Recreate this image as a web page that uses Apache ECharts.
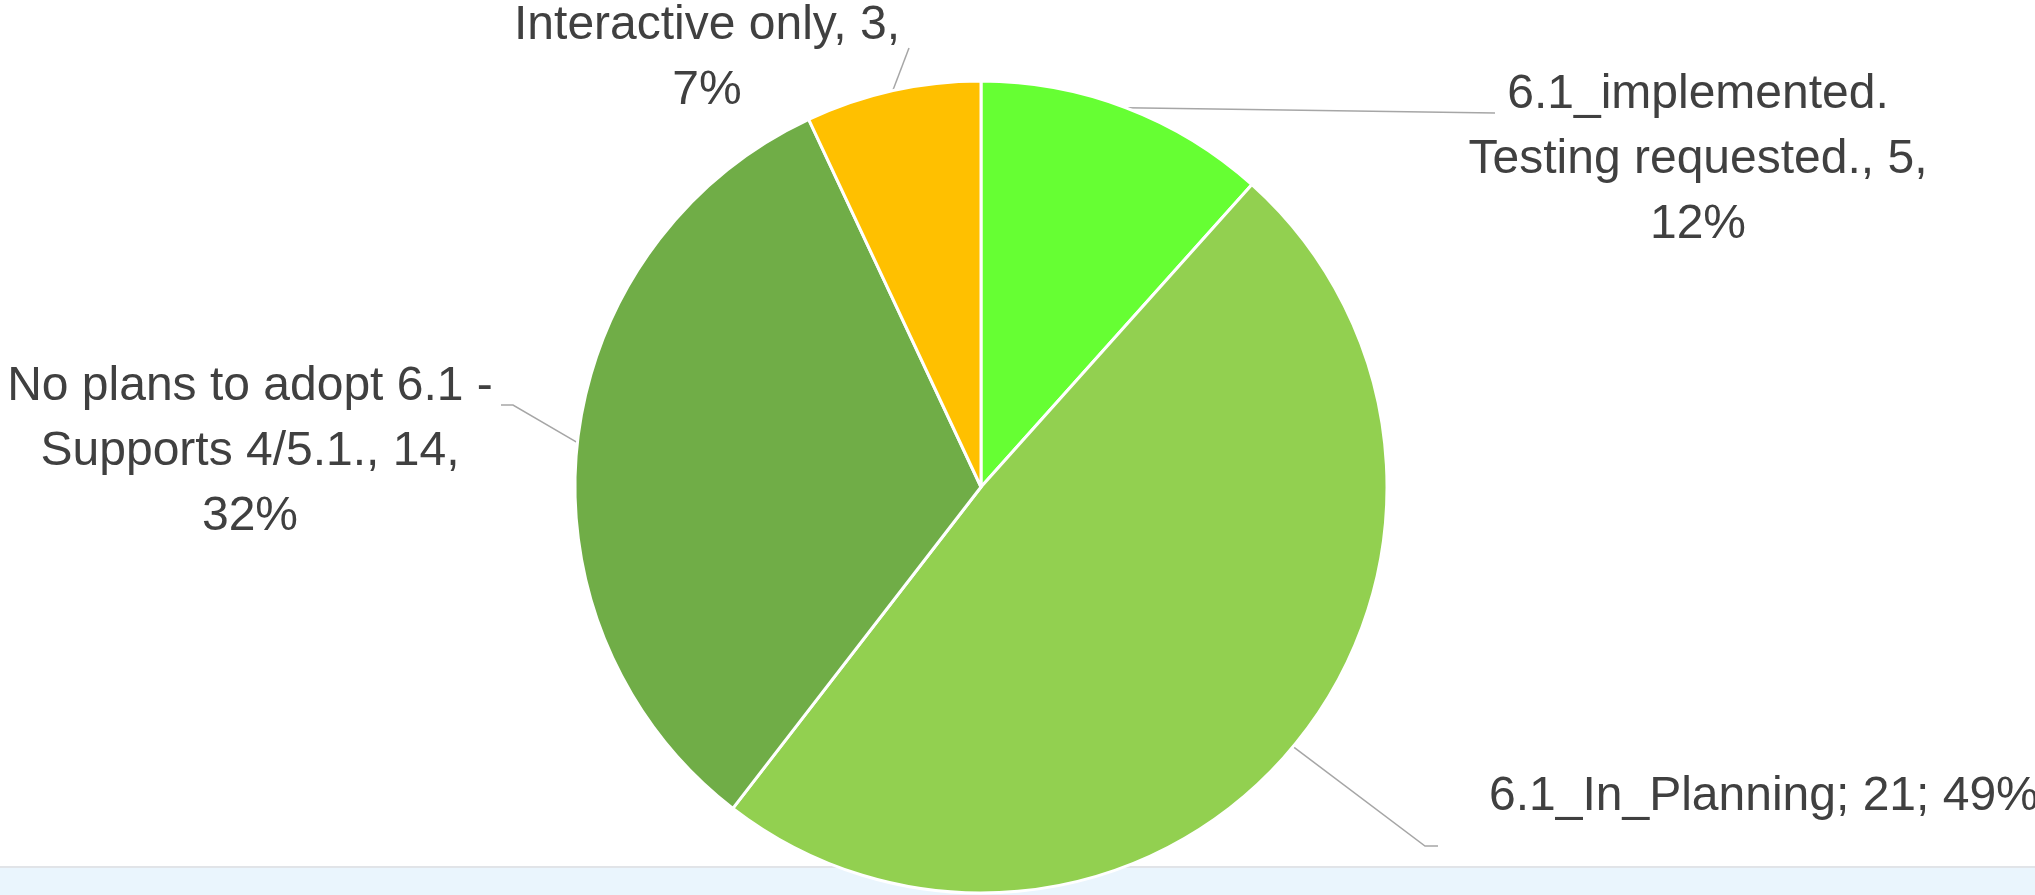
<!DOCTYPE html>
<html>
<head>
<meta charset="utf-8">
<script src="https://cdn.jsdelivr.net/npm/echarts@6/dist/echarts.min.js"></script>
<style>
  html, body { margin: 0; padding: 0; background: #ffffff; }
  #chart { width: 2035px; height: 895px; }
</style>
</head>
<body>
<div id="chart"></div>
<script>
// ---- data ----
const categories = [
  '6.1_implemented.\nTesting requested.',
  '6.1_In_Planning',
  'No plans to adopt 6.1 -\nSupports 4/5.1.',
  'Interactive only'
];
const values = [5, 21, 14, 3];
const separators = [',', ';', ',', ','];
const wrapPercent = [true, false, true, true];
const colors = ['#66FF33', '#92D050', '#70AD47', '#FFC000'];

// ---- label layout (positions, not data) ----
const labelPositions = [
  [1698, 160, 'center'],
  [1489, 797, 'left'],
  [250, 452, 'center'],
  [707, 58, 'center']
];
// leader end point and horizontal kink offset
const leaderEnds = [
  [1495, 113, 0],
  [1438, 846, -13],
  [501, 405, 12],
  [909, 48, 0]
];

const chart = echarts.init(document.getElementById('chart'), null, { renderer: 'canvas' });

const seriesData = categories.map((name, i) => ({
  name: name,
  value: values[i],
  itemStyle: { color: colors[i] }
}));

chart.setOption({
  animation: false,
  backgroundColor: '#ffffff',
  graphic: [
    {
      type: 'rect',
      z: -10,
      shape: { x: 0, y: 867, width: 2035, height: 28 },
      style: { fill: '#EAF5FD' }
    },
    {
      type: 'line',
      z: -9,
      shape: { x1: 0, y1: 867, x2: 2035, y2: 867 },
      style: { stroke: '#E1E4E8', lineWidth: 2 }
    }
  ],
  series: [
    {
      type: 'pie',
      center: [981, 487],
      radius: 406,
      startAngle: 90,
      clockwise: true,
      percentPrecision: 0,
      avoidLabelOverlap: false,
      itemStyle: { borderColor: '#ffffff', borderWidth: 3 },
      label: {
        show: true,
        position: 'outside',
        color: '#404040',
        fontFamily: 'Liberation Sans',
        fontSize: 48,
        lineHeight: 65,
        formatter: function (p) {
          const i = p.dataIndex;
          const s = separators[i];
          return p.name + s + ' ' + p.value + s + (wrapPercent[i] ? '\n' : ' ') + p.percent + '%';
        }
      },
      labelLine: {
        show: true,
        smooth: false,
        length: 20,
        length2: 10,
        lineStyle: { color: '#A6A6A6', width: 1.5 }
      },
      labelLayout: function (p) {
        const i = p.dataIndex;
        const pos = labelPositions[i];
        const end = leaderEnds[i];
        const st = p.labelLinePoints && p.labelLinePoints[0]
          ? [p.labelLinePoints[0][0], p.labelLinePoints[0][1]]
          : [end[0], end[1]];
        return {
          x: pos[0],
          y: pos[1],
          align: pos[2],
          verticalAlign: 'middle',
          labelLinePoints: [st, [end[0] + end[2], end[1]], [end[0], end[1]]]
        };
      },
      emphasis: { disabled: true },
      data: seriesData
    }
  ]
});
</script>
</body>
</html>
